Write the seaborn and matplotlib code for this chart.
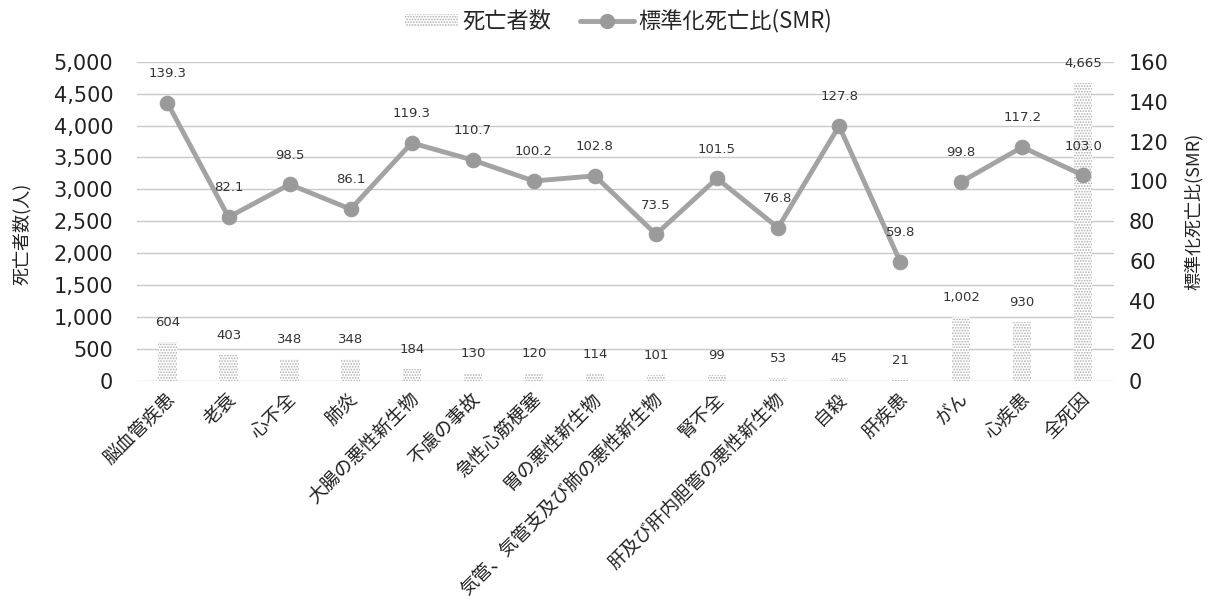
import matplotlib
matplotlib.use("Agg")
import matplotlib.pyplot as plt
import matplotlib.transforms as mtransforms
import seaborn as sns
import pandas as pd
import numpy as np
from matplotlib.patches import Patch
from matplotlib.lines import Line2D
from matplotlib.ticker import FuncFormatter, MultipleLocator

categories = ["脳血管疾患", "老衰", "心不全", "肺炎", "大腸の悪性新生物", "不慮の事故",
              "急性心筋梗塞", "胃の悪性新生物", "気管、気管支及び肺の悪性新生物", "腎不全",
              "肝及び肝内胆管の悪性新生物", "自殺", "肝疾患", "がん", "心疾患", "全死因"]
deaths = [604, 403, 348, 348, 184, 130, 120, 114, 101, 99, 53, 45, 21, 1002, 930, 4665]
smr = [139.3, 82.1, 98.5, 86.1, 119.3, 110.7, 100.2, 102.8, 73.5, 101.5, 76.8, 127.8, 59.8,
       99.8, 117.2, 103.0]
segment = [1] * 13 + [2] * 3

sns.set_theme(style="white")
plt.rcParams['font.family'] = ['DejaVu Sans', 'Noto Sans CJK JP']
plt.rcParams['hatch.color'] = '#b0b0b0'
plt.rcParams['hatch.linewidth'] = 0.85

CJK = ['Noto Sans CJK JP', 'DejaVu Sans']
TXT = "#222222"

df = pd.DataFrame({"cat": categories, "deaths": deaths, "smr": smr,
                   "pos": np.arange(len(categories)), "seg": segment})

fig = plt.figure(figsize=(12.12, 5.99), dpi=100)
ax = fig.add_axes([0.113, 0.364, 0.806, 0.533])
ax2 = ax.twinx()

sns.barplot(data=df, x="cat", y="deaths", ax=ax, color="white", width=0.3,
            edgecolor="#b0b0b0", linewidth=0, hatch="......", zorder=2)

ax.set_ylim(0, 5000)
ax.yaxis.set_major_locator(MultipleLocator(500))
ax.yaxis.set_major_formatter(FuncFormatter(lambda v, p: f"{int(v):,}"))
ax.grid(axis="y", color="#c8c8c8", linewidth=1)
ax.set_axisbelow(True)
for s in ax.spines.values():
    s.set_visible(False)
for s in ax2.spines.values():
    s.set_visible(False)
ax.tick_params(axis="y", labelsize=15, length=0, pad=17, colors=TXT)
ax.tick_params(axis="x", length=0, pad=2)
ax.set_xticks(range(len(categories)))
ax.set_xticklabels(categories, rotation=45, ha="right", rotation_mode="anchor",
                   fontsize=13.3, color=TXT, family=CJK)
for lab in ax.get_xticklabels():
    lab.set_transform(lab.get_transform() + mtransforms.ScaledTranslation(-2 / 100, -6 / 100, fig.dpi_scale_trans))
ax.set_xlabel("")
ax.set_ylabel("死亡者数(人)", fontsize=13, color=TXT, family=CJK)
ax.yaxis.set_label_coords(-0.108, 0.46)
ax.set_xlim(-0.5, len(categories) - 0.5)

for i, v in enumerate(deaths):
    ax.annotate(f"{v:,}", (i, v), xytext=(0, 14), textcoords="offset points",
                ha="center", va="center", fontsize=9.5, color="#333333")

for seg_id in [1, 2]:
    sub = df[df["seg"] == seg_id]
    sns.lineplot(data=sub, x="pos", y="smr", ax=ax2, color="#a3a3a3", linewidth=3.5,
                 marker="o", markersize=10.5, markerfacecolor="#9a9a9a",
                 markeredgecolor="#9a9a9a", zorder=3)
ax2.set_ylim(0, 160)
ax2.yaxis.set_major_locator(MultipleLocator(20))
ax2.tick_params(axis="y", labelsize=15, length=0, pad=11, colors=TXT)
ax2.set_ylabel("標準化死亡比(SMR)", fontsize=13, color=TXT, family=CJK)
ax2.yaxis.set_label_coords(1.072, 0.53)
ax2.set_xlabel("")
ax2.grid(False)
ax2.set_xlim(-0.5, len(categories) - 0.5)

for i, v in enumerate(smr):
    ax2.annotate(f"{v:.1f}", (i, v), xytext=(0, 21), textcoords="offset points",
                 ha="center", va="center", fontsize=9.5, color="#333333")

handles = [Patch(facecolor="white", edgecolor="#b0b0b0", hatch="......", linewidth=0),
           Line2D([0], [0], color="#a3a3a3", linewidth=3.5, marker="o", markersize=10,
                  markerfacecolor="#9a9a9a", markeredgecolor="#9a9a9a")]
fig.legend(handles, ["死亡者数", "標準化死亡比(SMR)"], loc="center", bbox_to_anchor=(0.51, 0.965),
           ncol=2, frameon=False, prop={"family": CJK, "size": 16}, handlelength=2.4,
           handleheight=0.5, columnspacing=1.3, handletextpad=0.2)

fig.savefig("out.png", dpi=100)
